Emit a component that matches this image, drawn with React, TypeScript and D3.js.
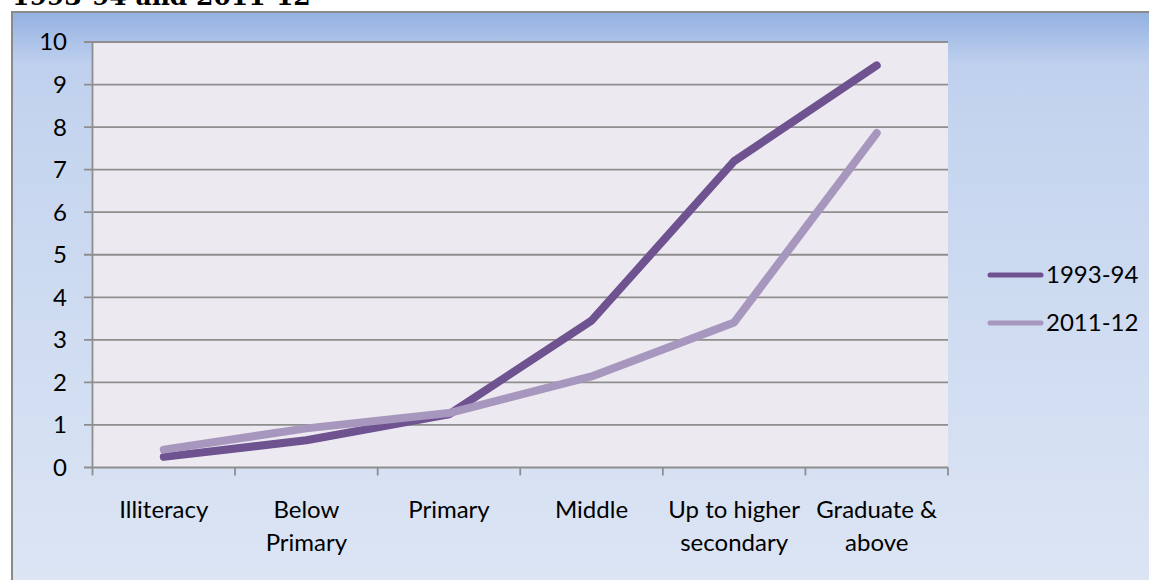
import React from "react";
import * as d3 from "d3";

const categories = ["Illiteracy", "Below Primary", "Primary", "Middle", "Up to higher secondary", "Graduate & above"];
const categoryLines = [["Illiteracy"], ["Below", "Primary"], ["Primary"], ["Middle"], ["Up to higher", "secondary"], ["Graduate &", "above"]];
const series1993 = [0.25, 0.64, 1.25, 3.45, 7.2, 9.45];
const series2011 = [0.42, 0.92, 1.28, 2.14, 3.41, 7.86];
const seriesNames = ["1993-94", "2011-12"];
const seriesColors = ["#6F5290", "#A797BE"];
const yTicks = [0, 1, 2, 3, 4, 5, 6, 7, 8, 9, 10];
const titleText = "1993-94 and 2011-12";

const W = 1149, H = 580;
const plot = { left: 92.5, right: 948, top: 42, bottom: 467.5 };
const FONT = "Lato, 'Open Sans', sans-serif";
const FS = 24;

export default function App() {
  const x = d3.scaleBand<string>().domain(categories).range([plot.left, plot.right]).padding(0);
  const y = d3.scaleLinear().domain([0, 10]).range([plot.bottom, plot.top]);
  const cx = (c: string) => (x(c) as number) + x.bandwidth() / 2;
  const line = d3.line<number>().x((_, i) => cx(categories[i])).y((d) => y(d));
  const allSeries = [series1993, series2011];
  const boundaries = categories.map((c) => x(c) as number).concat([plot.right]);

  return (
    <svg width={W} height={H} style={{ position: "absolute", left: 0, top: 0 }}>
      <defs>
        <linearGradient id="bg" x1="0" y1="0" x2="0" y2="1">
          <stop offset="0" stopColor="#93B1E1" />
          <stop offset="0.09" stopColor="#BFD0EE" />
          <stop offset="0.2" stopColor="#C5D5EF" />
          <stop offset="1" stopColor="#DCE5F4" />
        </linearGradient>
      </defs>
      <rect x={0} y={0} width={W} height={H} fill="#fff" />
      <text x={12} y={5} fontFamily="'DejaVu Serif', serif" fontWeight="bold" fontSize={25} fill="#000">{titleText}</text>
      <rect x={12} y={12} width={W} height={H} fill="url(#bg)" stroke="#8A8A8A" strokeWidth={2} />
      <rect x={plot.left} y={plot.top} width={plot.right - plot.left} height={plot.bottom - plot.top} fill="#ECEAF0" />
      {yTicks.map((t) => (
        <g key={t}>
          <line x1={84} x2={plot.right} y1={y(t)} y2={y(t)} stroke="#8E8E8E" strokeWidth={1.8} />
          <text x={67} y={y(t)} dy="0.35em" textAnchor="end" fontFamily={FONT} fontSize={FS} fill="#000">{t}</text>
        </g>
      ))}
      <line x1={plot.left} x2={plot.left} y1={plot.top} y2={plot.bottom} stroke="#8E8E8E" strokeWidth={1.8} />
      {boundaries.map((b, i) => (
        <line key={i} x1={b} x2={b} y1={plot.bottom} y2={plot.bottom + 8} stroke="#8E8E8E" strokeWidth={1.8} />
      ))}
      {categories.map((c, i) => (
        <text key={c} x={cx(c)} y={518} textAnchor="middle" fontFamily={FONT} fontSize={FS} fill="#000">
          {categoryLines[i].map((l, j) => (
            <tspan key={j} x={cx(c)} dy={j === 0 ? 0 : 33}>{l}</tspan>
          ))}
        </text>
      ))}
      {allSeries.map((s, i) => (
        <path key={i} d={line(s) as string} fill="none" stroke={seriesColors[i]} strokeWidth={8} strokeLinecap="round" strokeLinejoin="round" />
      ))}
      {seriesNames.map((n, i) => (
        <g key={n}>
          <line x1={990} x2={1041} y1={275 + i * 48} y2={275 + i * 48} stroke={seriesColors[i]} strokeWidth={5} strokeLinecap="round" />
          <text x={1046} y={275 + i * 48} dy="0.35em" fontFamily={FONT} fontSize={FS} fill="#000">{n}</text>
        </g>
      ))}
    </svg>
  );
}
